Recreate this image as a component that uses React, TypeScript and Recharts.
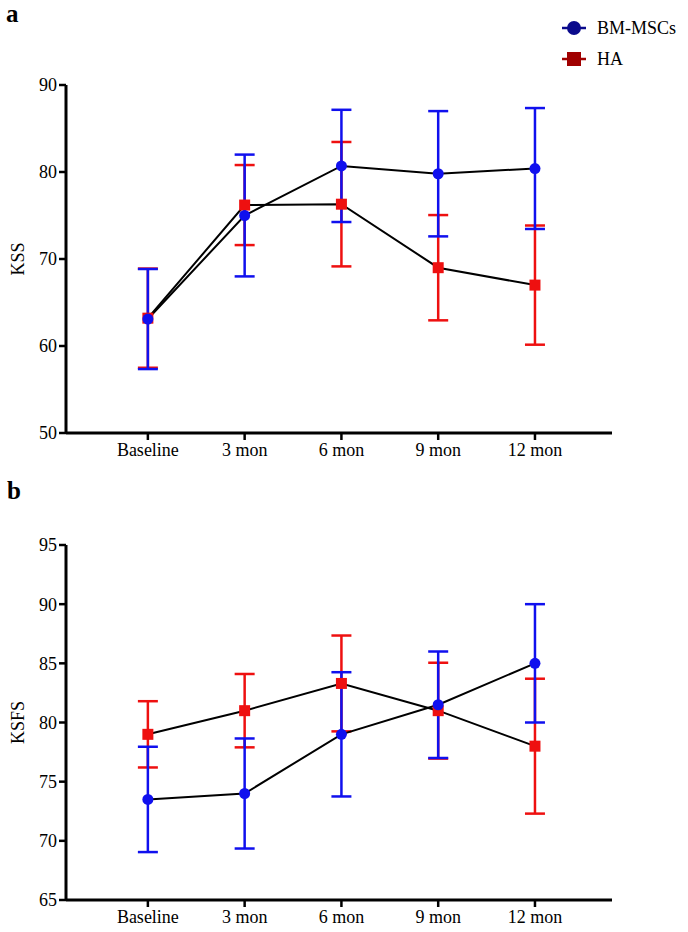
import { ErrorBar, Line, LineChart, XAxis, YAxis, Label } from 'recharts'

const categories = ['Baseline', '3 mon', '6 mon', '9 mon', '12 mon']

// panel a: KSS
const kssBm = [63.1, 75.0, 80.7, 79.8, 80.4]
const kssBmSd = [5.75, 7.0, 6.45, 7.2, 6.95]
const kssHa = [63.2, 76.2, 76.3, 69.0, 67.0]
const kssHaSd = [5.7, 4.6, 7.15, 6.05, 6.85]
const kssTicks = [50, 60, 70, 80, 90]

// panel b: KSFS
const ksfsBm = [73.5, 74.0, 79.0, 81.5, 85.0]
const ksfsBmSd = [4.45, 4.65, 5.25, 4.5, 5.0]
const ksfsHa = [79.0, 81.0, 83.3, 81.0, 78.0]
const ksfsHaSd = [2.8, 3.1, 4.05, 4.05, 5.7]
const ksfsTicks = [65, 70, 75, 80, 85, 90, 95]

const BLUE = '#1010ee'
const RED = '#ee1010'
const FONT = '"Liberation Serif", "Times New Roman", serif'

function buildRows(bm: number[], bmSd: number[], ha: number[], haSd: number[]) {
  return categories.map((_, i) => ({ x: i, bm: bm[i], bmSd: bmSd[i], ha: ha[i], haSd: haSd[i] }))
}

const SquareDot = (props: any) => {
  const { cx, cy, index } = props
  if (cx == null || cy == null) return <g key={`sq-${index}`} />
  return <rect key={`sq-${index}`} x={cx - 5.5} y={cy - 5.5} width={11} height={11} fill={RED} />
}

const RoundDot = (props: any) => {
  const { cx, cy, index } = props
  if (cx == null || cy == null) return <g key={`c-${index}`} />
  return <circle key={`c-${index}`} cx={cx} cy={cy} r={5.5} fill={BLUE} />
}

function AxisTitle({ text }: { text: string }) {
  return (
    <Label
      content={(p: any) => {
        const vb = p.viewBox || { x: 0, y: 0, height: 0 }
        const cy = vb.y + vb.height / 2
        return (
          <text x={18} y={cy} transform={`rotate(-90, 18, ${cy})`} textAnchor="middle" dominantBaseline="central" fontSize={18} fontFamily={FONT} fill="#000">
            {text}
          </text>
        )
      }}
    />
  )
}

function Panel({ rows, domain, ticks, title, height, top, plotHeight }: { rows: any[]; domain: [number, number]; ticks: number[]; title: string; height: number; top: number; plotHeight: number }) {
  const tickStyle = { fill: '#000', fontSize: 18, fontFamily: FONT }
  return (
    <LineChart width={688} height={height} data={rows} margin={{ top, right: 76, left: 16, bottom: height - top - plotHeight - 30 }}>
      <XAxis
        type="number"
        dataKey="x"
        domain={[-0.846, 4.796]}
        allowDataOverflow
        ticks={[0, 1, 2, 3, 4]}
        tickFormatter={(v: number) => categories[v] ?? ''}
        height={30}
        tick={tickStyle}
        tickSize={7}
        tickMargin={3}
        axisLine={{ stroke: '#000', strokeWidth: 3 }}
        tickLine={{ stroke: '#000', strokeWidth: 2.5 }}
      />
      <YAxis
        type="number"
        domain={domain}
        ticks={ticks}
        width={50}
        tick={tickStyle}
        tickSize={7}
        tickMargin={2}
        axisLine={{ stroke: '#000', strokeWidth: 3 }}
        tickLine={{ stroke: '#000', strokeWidth: 2.5 }}
      >
        <AxisTitle text={title} />
      </YAxis>
      <Line dataKey="ha" type="linear" stroke="#000" strokeWidth={2} dot={SquareDot} activeDot={false} isAnimationActive={false}>
        <ErrorBar dataKey="haSd" width={10} stroke={RED} strokeWidth={2.5} direction="y" />
      </Line>
      <Line dataKey="bm" type="linear" stroke="#000" strokeWidth={2} dot={RoundDot} activeDot={false} isAnimationActive={false}>
        <ErrorBar dataKey="bmSd" width={10} stroke={BLUE} strokeWidth={2.5} direction="y" />
      </Line>
    </LineChart>
  )
}

export default function App() {
  const kssRows = buildRows(kssBm, kssBmSd, kssHa, kssHaSd)
  const ksfsRows = buildRows(ksfsBm, ksfsBmSd, ksfsHa, ksfsHaSd)
  return (
    <div style={{ position: 'absolute', left: 0, top: 0, width: 688, height: 932, background: '#fff', fontFamily: FONT }}>
      <div style={{ position: 'absolute', left: 6, top: 0, fontSize: 25, fontWeight: 'bold', lineHeight: '28px' }}>a</div>
      <div style={{ position: 'absolute', left: 7, top: 477, fontSize: 25, fontWeight: 'bold', lineHeight: '28px' }}>b</div>

      <div style={{ position: 'absolute', left: 560, top: 14, fontSize: 18 }}>
        <div style={{ display: 'flex', alignItems: 'center', height: 28 }}>
          <svg width={28} height={20}>
            <line x1={2} y1={10} x2={26} y2={10} stroke="#0a0a8c" strokeWidth={2.5} />
            <circle cx={14} cy={10} r={7} fill="#0a0a8c" />
          </svg>
          <span style={{ marginLeft: 9 }}>BM-MSCs</span>
        </div>
        <div style={{ display: 'flex', alignItems: 'center', height: 28, marginTop: 3 }}>
          <svg width={28} height={20}>
            <line x1={2} y1={10} x2={26} y2={10} stroke="#a00000" strokeWidth={2.5} />
            <rect x={7} y={3} width={14} height={14} fill="#a00000" />
          </svg>
          <span style={{ marginLeft: 9 }}>HA</span>
        </div>
      </div>

      <div style={{ position: 'absolute', left: 0, top: 0 }}>
        <Panel rows={kssRows} domain={[50, 90]} ticks={kssTicks} title="KSS" height={470} top={85} plotHeight={348} />
      </div>
      <div style={{ position: 'absolute', left: 0, top: 470 }}>
        <Panel rows={ksfsRows} domain={[65, 95]} ticks={ksfsTicks} title="KSFS" height={462} top={75} plotHeight={355} />
      </div>
    </div>
  )
}
